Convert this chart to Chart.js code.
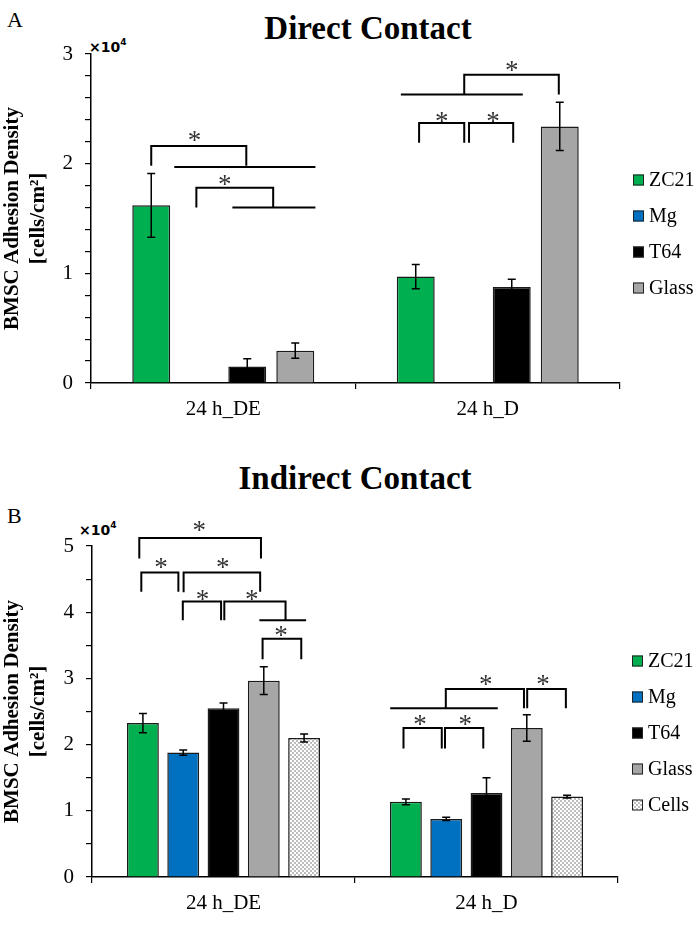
<!DOCTYPE html>
<html>
<head>
<meta charset="utf-8">
<script src="https://cdn.jsdelivr.net/npm/chart.js@4.4.1/dist/chart.umd.min.js"></script>
<style>
  body{margin:0;width:700px;height:928px;position:relative;background:#fff;overflow:hidden;font-family:"Liberation Serif",serif;color:#000}
  .wrap{position:absolute;left:0;width:700px}
  #wrapA{top:0;height:440px}
  #wrapB{top:460px;height:468px}
  .title{position:absolute;font:bold 33px/33px "Liberation Serif";white-space:nowrap;transform:translateX(-50%)}
  .lab{position:absolute;font:22px/22px "Liberation Serif"}
  .mult{position:absolute;font:bold 14px/14px "DejaVu Sans"}
  .mult sup{font-size:9px;vertical-align:7px}
</style>
</head>
<body>
<div class="lab" style="left:7px;top:9px">A</div>
<div class="title" style="left:368px;top:12px">Direct Contact</div>
<div class="mult" style="left:89px;top:35px">×10<sup>4</sup></div>
<div class="wrap" id="wrapA"><canvas id="chartA" width="700" height="440"></canvas></div>

<div class="lab" style="left:7px;top:505px">B</div>
<div class="title" style="left:355px;top:462px">Indirect Contact</div>
<div class="mult" style="left:79px;top:518px">×10<sup>4</sup></div>
<div class="wrap" id="wrapB"><canvas id="chartB" width="700" height="468"></canvas></div>

<script>
const categories = ["24 h_DE", "24 h_D"];
const seriesA = ["ZC21", "Mg", "T64", "Glass"];
const seriesB = ["ZC21", "Mg", "T64", "Glass", "Cells"];
const seriesColors = ["#00b050", "#0070c0", "#000000", "#a6a6a6", "cells"];

// values in x10^4 cells/cm2, one entry per category
const aZC21 = [1.62, 0.97];
const aMg = [null, null];
const aT64 = [0.15, 0.875];
const aGlass = [0.295, 2.34];
const aZC21Err = [0.29, 0.11];
const aMgErr = [null, null];
const aT64Err = [0.07, 0.07];
const aGlassErr = [0.07, 0.22];

const bZC21 = [2.325, 1.135];
const bMg = [1.88, 0.877];
const bT64 = [2.55, 1.27];
const bGlass = [2.965, 2.25];
const bCells = [2.10, 1.215];
const bZC21Err = [0.145, 0.045];
const bMgErr = [0.04, 0.025];
const bT64Err = [0.08, 0.23];
const bGlassErr = [0.21, 0.2];
const bCellsErr = [0.06, 0.02];

// significance brackets: x in bar slots within a category, y in data units
const bracketsA = [
  {cat:0, pts:[[0,1.98],[0,2.16],[1.98,2.16],[1.98,1.98]]},
  {cat:0, pts:[[0.48,1.97],[3.42,1.97]]},
  {cat:0, pts:[[0.94,1.60],[0.94,1.78],[2.54,1.78],[2.54,1.60]]},
  {cat:0, pts:[[1.69,1.60],[3.42,1.60]]},
  {cat:1, pts:[[-0.31,2.63],[2.23,2.63]]},
  {cat:1, pts:[[1.01,2.63],[1.01,2.81],[2.98,2.81],[2.98,2.63]]},
  {cat:1, pts:[[0.07,2.19],[0.07,2.37],[1.01,2.37],[1.01,2.19]]},
  {cat:1, pts:[[1.11,2.19],[1.11,2.37],[2.03,2.37],[2.03,2.19]]}
];
const starsA = [
  {cat:0, s:0.9, y:2.25}, {cat:0, s:1.53, y:1.85},
  {cat:1, s:2.0, y:2.89}, {cat:1, s:0.54, y:2.43}, {cat:1, s:1.61, y:2.43}
];
const bracketsB = [
  {cat:0, pts:[[-0.09,4.81],[-0.09,5.12],[2.93,5.12],[2.93,4.81]]},
  {cat:0, pts:[[-0.04,4.31],[-0.04,4.60],[0.88,4.60],[0.88,4.31]]},
  {cat:0, pts:[[1.01,4.30],[1.01,4.60],[2.91,4.60],[2.91,4.31]]},
  {cat:0, pts:[[0.99,3.88],[0.99,4.16],[1.94,4.16],[1.94,3.88]]},
  {cat:0, pts:[[2.02,3.88],[2.02,4.16],[3.54,4.16],[3.54,3.88]]},
  {cat:0, pts:[[2.89,3.88],[4.05,3.88]]},
  {cat:0, pts:[[2.97,3.29],[2.97,3.60],[3.93,3.60],[3.93,3.29]]},
  {cat:1, pts:[[-0.39,2.55],[2.28,2.55]]},
  {cat:1, pts:[[0.99,2.55],[0.99,2.84],[2.93,2.84],[2.93,2.55]]},
  {cat:1, pts:[[3.01,2.55],[3.01,2.84],[3.97,2.84],[3.97,2.55]]},
  {cat:1, pts:[[-0.06,1.94],[-0.06,2.25],[0.89,2.25],[0.89,1.94]]},
  {cat:1, pts:[[0.97,1.94],[0.97,2.25],[1.92,2.25],[1.92,1.94]]}
];
const starsB = [
  {cat:0, s:1.40, y:5.3}, {cat:0, s:0.45, y:4.74}, {cat:0, s:1.98, y:4.74},
  {cat:0, s:1.48, y:4.26}, {cat:0, s:2.70, y:4.26}, {cat:0, s:3.43, y:3.71},
  {cat:1, s:1.98, y:2.98}, {cat:1, s:3.40, y:2.98},
  {cat:1, s:0.35, y:2.37}, {cat:1, s:1.47, y:2.37}
];

function cellsPattern(ctx){
  const c = document.createElement("canvas");
  c.width = 4; c.height = 4;
  const g = c.getContext("2d");
  g.fillStyle = "#fff"; g.fillRect(0,0,4,4);
  g.fillStyle = "#bdbdbd"; g.fillRect(0,0,2,2); g.fillRect(2,2,2,2);
  return ctx.createPattern(c, "repeat");
}

function fillFor(col, ctx){
  return col === "cells" ? cellsPattern(ctx) : col;
}

function slotX(chart, cat, s){
  const n = chart.data.datasets.length;
  const x0 = chart.getDatasetMeta(0).data[cat].x;
  const xl = chart.getDatasetMeta(n-1).data[cat].x;
  return x0 + s * (xl - x0) / (n - 1);
}

const marks = {
  id: "marks",
  afterDatasetsDraw(chart){
    const ctx = chart.ctx, y = chart.scales.y;
    const o = chart.options.plugins.marks;
    ctx.save();
    ctx.strokeStyle = "#000";
    // error bars
    ctx.lineWidth = 1.5;
    chart.data.datasets.forEach((ds, i) => {
      chart.getDatasetMeta(i).data.forEach((bar, j) => {
        const v = ds.data[j], e = ds.err[j];
        if(v == null || e == null) return;
        const t = y.getPixelForValue(v + e), b = y.getPixelForValue(v - e);
        ctx.beginPath();
        ctx.moveTo(bar.x, t); ctx.lineTo(bar.x, b);
        ctx.moveTo(bar.x - 4, t); ctx.lineTo(bar.x + 4, t);
        ctx.moveTo(bar.x - 4, b); ctx.lineTo(bar.x + 4, b);
        ctx.stroke();
      });
    });
    // brackets
    ctx.lineWidth = 2;
    o.brackets.forEach(br => {
      ctx.beginPath();
      br.pts.forEach((p, k) => {
        const px = slotX(chart, br.cat, p[0]), py = y.getPixelForValue(p[1]);
        k ? ctx.lineTo(px, py) : ctx.moveTo(px, py);
      });
      ctx.stroke();
    });
    ctx.fillStyle = "#333";
    ctx.font = "27px 'Liberation Serif'";
    ctx.textAlign = "center";
    ctx.textBaseline = "middle";
    o.stars.forEach(st => {
      ctx.fillText("*", slotX(chart, st.cat, st.s), y.getPixelForValue(st.y) + 6);
    });
    // legend at the right of the plot
    const lg = o.legend;
    ctx.font = "20px 'Liberation Serif'";
    ctx.textAlign = "left";
    chart.data.datasets.forEach((ds, i) => {
      const cy = chart.chartArea.top + lg.top + i * lg.step;
      const bx = chart.chartArea.right + lg.gap;
      ctx.fillStyle = ds.backgroundColor;
      ctx.fillRect(bx, cy - 5.5, 11, 11);
      ctx.lineWidth = 1;
      ctx.strokeStyle = "#222";
      ctx.strokeRect(bx + 0.5, cy - 5, 10, 10);
      ctx.fillStyle = "#000";
      ctx.fillText(ds.label, bx + 16, cy + 1);
    });
    ctx.restore();
  }
};

function makeChart(id, names, values, errs, ymax, step, brackets, stars, legend, pad, yWidth, catPct){
  const canvas = document.getElementById(id);
  const ctx = canvas.getContext("2d");
  const datasets = names.map((n, i) => ({
    label: n,
    data: values[i],
    err: errs[i],
    backgroundColor: fillFor(seriesColors[i], ctx),
    borderColor: "#1a1a1a",
    borderWidth: 1.5,
    categoryPercentage: catPct,
    barPercentage: 0.79
  }));
  return new Chart(canvas, {
    type: "bar",
    data: { labels: categories, datasets },
    plugins: [marks],
    options: {
      responsive: false,
      animation: false,
      devicePixelRatio: 1,
      layout: { padding: pad },
      plugins: {
        legend: { display: false },
        tooltip: { enabled: false },
        marks: { brackets, stars, legend }
      },
      scales: {
        x: {
          afterFit(s){ s.height = 40; },
          grid: { offset: true, drawOnChartArea: false, color: "#000", tickLength: 6, lineWidth: 1.2 },
          border: { color: "#000", width: 1.5 },
          ticks: { color: "#000", padding: 8, font: { family: "Liberation Serif", size: 21 } }
        },
        y: {
          min: 0, max: ymax,
          afterFit(s){ s.width = yWidth; },
          grid: { drawOnChartArea: false, color: "#000", tickLength: 6, lineWidth: 1.2 },
          border: { color: "#000", width: 1.5 },
          ticks: {
            stepSize: step, autoSkip: false, color: "#000", padding: 12,
            font: { family: "Liberation Serif", size: 21 },
            callback: v => Math.abs(v - Math.round(v)) < 1e-6 ? Math.round(v) : ""
          },
          title: {
            display: true,
            text: ["BMSC Adhesion Density", "[cells/cm²]"],
            color: "#000",
            padding: 0,
            font: { family: "Liberation Serif", size: 21, weight: "bold", lineHeight: "26px" }
          }
        }
      }
    }
  });
}

makeChart("chartA", seriesA, [aZC21, aMg, aT64, aGlass], [aZC21Err, aMgErr, aT64Err, aGlassErr],
  3, 0.2, bracketsA, starsA, {gap:13, top:126, step:36},
  {top:54, right:80, bottom:17, left:0}, 91, 0.726);
makeChart("chartB", seriesB, [bZC21, bMg, bT64, bGlass, bCells], [bZC21Err, bMgErr, bT64Err, bGlassErr, bCellsErr],
  5, 0.5, bracketsB, starsB, {gap:14, top:115, step:36},
  {top:86, right:82, bottom:11, left:0}, 92, 0.766);
</script>
</body>
</html>
